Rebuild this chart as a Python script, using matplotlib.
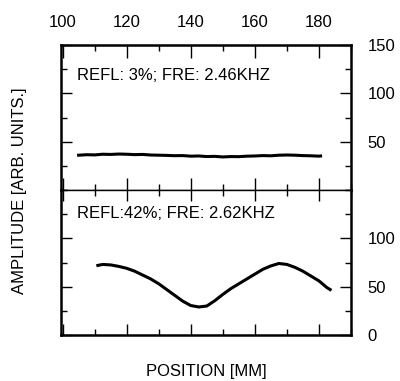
import numpy as np
import matplotlib.pyplot as plt
from matplotlib.ticker import MultipleLocator

plt.rcParams['font.family'] = ['Liberation Sans', 'DejaVu Sans']

# upper trace: low reflection, nearly flat amplitude
pos_low = [105, 107.5, 110, 112.5, 115, 117.5, 120, 122.5, 125, 127.5, 130,
           132.5, 135, 137.5, 140, 142.5, 145, 147.5, 150, 152.5, 155, 157.5,
           160, 162.5, 165, 167.5, 170, 172.5, 175, 177.5, 180, 180.5]
amp_low = [36, 36.5, 36.3, 37, 36.8, 37.2, 37, 36.6, 36.8, 36.2, 36,
           35.8, 35.5, 35.6, 35, 35.2, 34.6, 34.8, 34.2, 34.6, 34.5, 35,
           35.2, 35.6, 35.4, 36, 36.2, 36, 35.6, 35.4, 35, 35.2]

# lower trace: strong reflection, standing-wave pattern
pos_high = [111, 112.5, 115, 117.5, 120, 122.5, 125, 127.5, 130, 132.5, 135,
            137.5, 140, 142.5, 145, 147.5, 150, 152.5, 155, 157.5, 160, 162.5,
            165, 167.5, 170, 172.5, 175, 177.5, 180, 182.5, 183.5]
amp_high = [72, 73, 72.5, 71, 69, 66, 62, 58, 53, 47, 41,
            35, 30.5, 29, 30, 35.5, 42, 48, 53, 58, 63, 68,
            71.5, 74, 73, 70, 66, 61, 56, 49, 47]

labels = ['REFL: 3%; FRE: 2.46KHZ', 'REFL:42%; FRE: 2.62KHZ']
label_y = [0.79, 0.84]

fig = plt.figure(figsize=(4, 3.81), dpi=100)
ax_top = fig.add_axes([0.1525, 0.5013, 0.725, 0.3806])
ax_bot = fig.add_axes([0.1525, 0.1207, 0.725, 0.3806], sharex=ax_top)

for ax, x, y, txt, ty in [(ax_top, pos_low, amp_low, labels[0], label_y[0]),
                          (ax_bot, pos_high, amp_high, labels[1], label_y[1])]:
    ax.plot(x, y, color='black', lw=2.2)
    ax.set_ylim(0, 150)
    ax.set_xlim(99.5, 190)
    ax.xaxis.set_major_locator(MultipleLocator(20))
    ax.xaxis.set_minor_locator(MultipleLocator(10))
    ax.yaxis.set_major_locator(MultipleLocator(50))
    ax.yaxis.set_minor_locator(MultipleLocator(25))
    ax.tick_params(which='both', direction='in', left=True, right=True,
                   labelleft=False, labelright=True, labelsize=12,
                   width=1.0, color='black')
    ax.tick_params(axis='y', which='both', pad=12)
    ax.tick_params(which='major', length=8)
    ax.tick_params(which='minor', length=4)
    ax.text(0.055, ty, txt, transform=ax.transAxes, fontsize=12,
            ha='left', va='center')
    for side in ['left', 'right', 'top', 'bottom']:
        ax.spines[side].set_linewidth(1.8)

# upper panel: position labels along the top
ax_top.tick_params(axis='x', which='both', top=True, bottom=True,
                   labeltop=True, labelbottom=False, pad=11)
ax_top.tick_params(axis='x', which='major', length=9)
ax_top.spines['bottom'].set_linewidth(1.0)
ax_top.set_yticks([50, 100, 150])
ax_top.set_xticks([100, 120, 140, 160, 180])

# lower panel: no label at 150, shared divider line
ax_bot.tick_params(axis='x', which='both', top=True, bottom=True,
                   labeltop=False, labelbottom=False)
ax_bot.spines['top'].set_linewidth(1.0)
ax_bot.set_yticks([0, 50, 100])

fig.text(0.05, 0.5, 'AMPLITUDE [ARB. UNITS.]', rotation=90,
         ha='center', va='center', fontsize=12)
fig.text(0.515, 0.026, 'POSITION [MM]', ha='center', va='center',
         fontsize=12)

fig.savefig('out.png', dpi=100)
